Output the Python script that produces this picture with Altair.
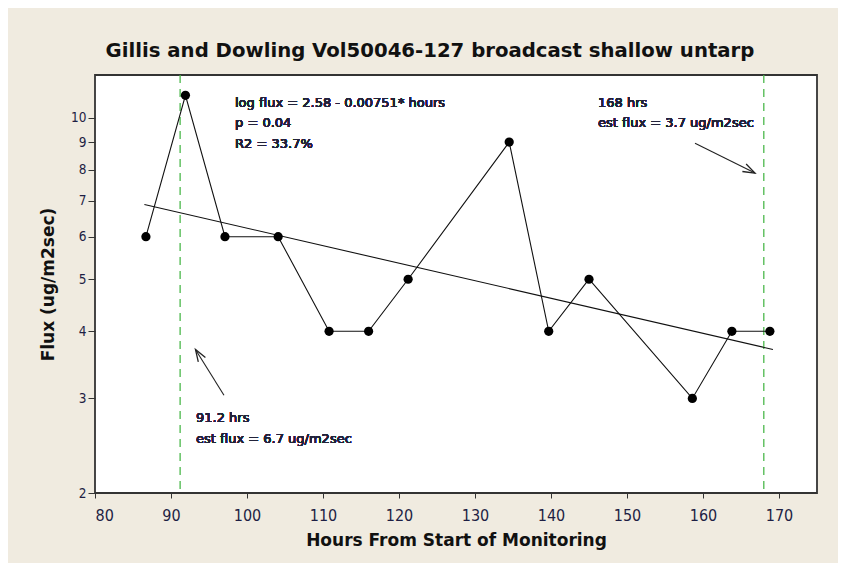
import altair as alt
import pandas as pd

# Observed flux values
hours = [86.7, 91.9, 97.1, 104.1, 110.8, 116.0, 121.2, 134.5, 139.7, 145.0, 158.6, 163.8, 168.8]
flux = [6, 11, 6, 6, 4, 4, 5, 9, 4, 5, 3, 4, 4]

# Fitted line end points (log flux = 2.58 - 0.00751*hours)
fit_hours = [86.5, 169.2]
fit_flux = [6.89, 3.70]

# Reference times
ref_hours = [91.2, 168.0]

# Annotation arrows (tail -> tip), in data units
arrow_tail_hours = [158.95, 96.97]
arrow_tail_flux = [8.96, 3.04]
arrow_tip_hours = [166.84, 93.22]
arrow_tip_flux = [7.88, 3.70]
arrow_angle = [116.6, 327.9]

y_ticks = [2, 3, 4, 5, 6, 7, 8, 9, 10]
x_ticks = [80, 90, 100, 110, 120, 130, 140, 150, 160, 170]

FONT = "DejaVu Sans Condensed, DejaVu Sans"
LABEL_COLOR = "#1e1e44"

obs = pd.DataFrame({"hours": hours, "flux": flux})
fit = pd.DataFrame({"hours": fit_hours, "flux": fit_flux})
refs = pd.DataFrame({"hours": ref_hours})
arrows = pd.DataFrame({
    "hours": arrow_tail_hours, "flux": arrow_tail_flux,
    "hours2": arrow_tip_hours, "flux2": arrow_tip_flux,
    "angle": arrow_angle,
})
heads = pd.DataFrame({"hours": arrow_tip_hours, "flux": arrow_tip_flux, "angle": arrow_angle})

x_scale = alt.Scale(domain=[80, 175], nice=False, zero=False)
y_scale = alt.Scale(type="log", domain=[2, 12], nice=False)

x_axis = alt.Axis(
    values=x_ticks, title="Hours From Start of Monitoring", grid=False,
    tickSize=5, labelPadding=9, labelFontSize=16, labelFont=FONT,
    labelFontWeight="normal",
    labelColor=LABEL_COLOR, tickColor="#333333", domain=False,
    titleFont="DejaVu Sans", titleFontSize=17, titleFontWeight="bold",
    titleColor="#111111", titleX=361, titleY=47, titleBaseline="middle",
)
y_axis = alt.Axis(
    values=y_ticks, title="Flux (ug/m2sec)", grid=False, format="d",
    tickSize=7, labelPadding=2, labelFontSize=13.5, labelFont=FONT,
    labelFontWeight="normal",
    labelColor=LABEL_COLOR, tickColor="#333333", domain=False,
    titleFont="DejaVu Sans", titleFontSize=17, titleFontWeight="bold",
    titleColor="#111111", titleX=-47, titleY=209, titleAngle=270,
    titleAlign="center", titleBaseline="middle",
)

def X(field="hours"):
    return alt.X(f"{field}:Q", scale=x_scale, axis=x_axis)

def Y(field="flux"):
    return alt.Y(f"{field}:Q", scale=y_scale, axis=y_axis)

ref_layer = alt.Chart(refs).mark_rule(
    color="#4cb84c", strokeDash=[8, 6], strokeWidth=1.3
).encode(x=X())

fit_layer = alt.Chart(fit).mark_line(color="#111111", strokeWidth=1.1).encode(x=X(), y=Y())

line_layer = alt.Chart(obs).mark_line(color="#111111", strokeWidth=1.1).encode(x=X(), y=Y())

pt_layer = alt.Chart(obs).mark_circle(color="#000000", size=85, opacity=1).encode(x=X(), y=Y())

arrow_layer = alt.Chart(arrows).mark_rule(color="#222222", strokeWidth=1.1).encode(
    x=X(), y=Y(), x2="hours2:Q", y2="flux2:Q"
)

head_layer = alt.Chart(heads).mark_point(
    shape="M-0.7,2L0,0L0.7,2", filled=False, stroke="#222222", strokeWidth=1.3, size=144, opacity=1
).encode(x=X(), y=Y(), angle=alt.Angle("angle:Q", scale=None))

def note(text, x, y):
    return alt.Chart(obs).mark_text(
        text=text, align="left", baseline="middle", font="DejaVu Sans", fontSize=13,
        fontWeight="normal",
        color="#22223a", lineBreak="\n", lineHeight=20.5,
    ).encode(x=alt.value(x), y=alt.value(y))

n1 = note("log flux = 2.58 - 0.00751* hours\np = 0.04\nR2 = 33.7%", 140, 27.5)
n2 = note("168 hrs\nest flux = 3.7 ug/m2sec", 503, 27.5)
n3 = note("91.2 hrs\nest flux = 6.7 ug/m2sec", 101, 343)

chart = alt.layer(
    ref_layer, fit_layer, line_layer, pt_layer, arrow_layer, head_layer, n1, n2, n3
).properties(
    width=722, height=418,
    title=alt.TitleParams(
        "Gillis and Dowling Vol50046-127 broadcast shallow untarp",
        font="DejaVu Sans", fontSize=19.7, fontWeight="bold", color="#111111",
        anchor="middle", dx=-26, offset=-2, baseline="alphabetic",
    ),
    autosize=alt.AutoSizeParams(type="none"),
    padding={"left": 87, "top": 67, "right": 21, "bottom": 70},
    background="#f0ebe0",
).configure_view(
    fill="white", stroke="#333333", strokeWidth=1.8
)

chart.save("out.html", embed_options={"renderer": "svg", "actions": False})
